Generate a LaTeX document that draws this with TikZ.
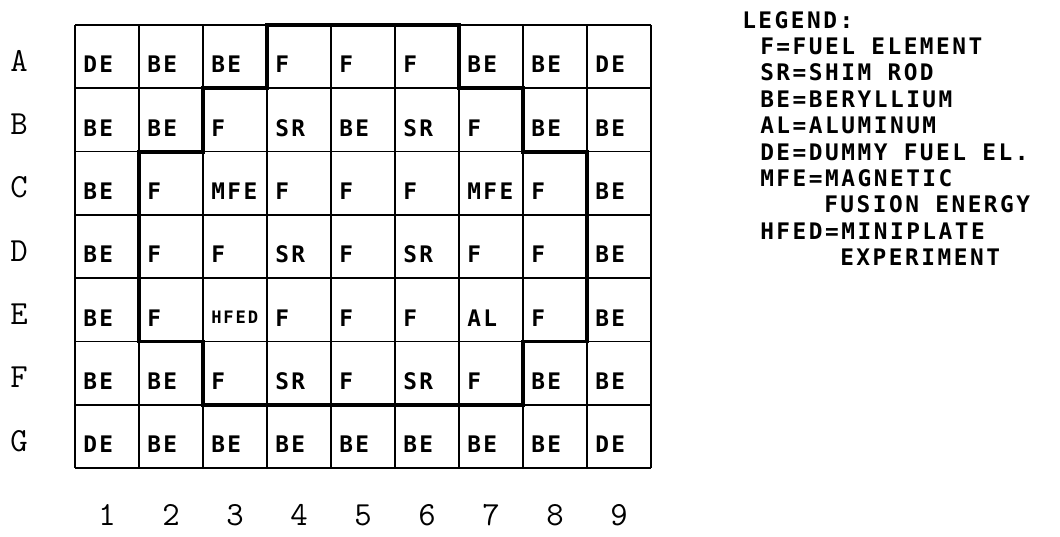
\documentclass[tikz,border=0pt]{standalone}
\usepackage{fontspec}
\usepackage{tikz}
\usetikzlibrary{positioning}
\newfontfamily\plotfont[LetterSpace=11]{DejaVu Sans Mono}
\newcommand{\smalltag}[1]{{\fontsize{12.2}{13}\selectfont #1}}

\begin{document}
\begin{tikzpicture}[x=0.025cm, y=-0.025cm,
    gridline/.style={line width=1.2pt, draw=black},
    coreline/.style={line width=2.8pt, draw=black, line join=miter},
    celltext/.style={anchor=west, inner sep=0pt, font=\plotfont\bfseries\fontsize{16.2}{18}\selectfont},
    axistext/.style={inner sep=0pt, font=\ttfamily\fontsize{24}{24}\selectfont},
    legendtext/.style={anchor=west, inner sep=0pt, font=\plotfont\bfseries\fontsize{16.2}{18}\selectfont}]
    \useasboundingbox (0,0) rectangle (1060,537);

    % grid points
    \foreach \k in {0,...,9}
        \foreach \j in {0,...,7}
            \coordinate (p\k\j) at ({75+64*\k},{25+63.3*\j});

    % grid
    \foreach \k in {0,...,9}
        \draw[gridline] (p\k0) -- (p\k7);
    \foreach \j in {0,...,7}
        \draw[gridline] (p0\j) -- (p9\j);

    % core boundary
    \draw[coreline] (p30) -- (p60) -- (p61) -- (p71) -- (p72) -- (p82) -- (p85) -- (p75)
        -- (p76) -- (p26) -- (p25) -- (p15) -- (p12) -- (p22) -- (p21) -- (p31) -- cycle;

    % cell contents
    \foreach \r/\lst [count=\i] in {
        A/{DE,BE,BE,F,F,F,BE,BE,DE},
        B/{BE,BE,F,SR,BE,SR,F,BE,BE},
        C/{BE,F,MFE,F,F,F,MFE,F,BE},
        D/{BE,F,F,SR,F,SR,F,F,BE},
        E/{BE,F,\smalltag{HFED},F,F,F,AL,F,BE},
        F/{BE,BE,F,SR,F,SR,F,BE,BE},
        G/{DE,BE,BE,BE,BE,BE,BE,BE,DE}} {
        \node[axistext] (lbl\r) at (19,{25+63.3*(\i-1)+36}) {\r};
        \foreach \e [count=\j] in \lst
            \node[celltext] (\r\j) at ({75+64*(\j-1)+8},{25+63.3*(\i-1)+39.5}) {\e};
    }

    % column numbers
    \foreach \k in {1,...,9}
        \node[axistext] (num\k) at ({107+64*(\k-1)},515) {\k};

    % legend
    \node[legendtext] (legTitle) at (742,20) {LEGEND:};
    \foreach \t/\x/\y [count=\n] in {
        F=FUEL ELEMENT/760/46,
        SR=SHIM ROD/760/72,
        BE=BERYLLIUM/760/99,
        AL=ALUMINUM/760/125,
        DE=DUMMY FUEL EL./760/152,
        MFE=MAGNETIC/760/178,
        FUSION ENERGY/824/204,
        HFED=MINIPLATE/760/231,
        EXPERIMENT/840/257}
        \node[legendtext] (leg\n) at (\x,\y) {\t};
\end{tikzpicture}
\end{document}
